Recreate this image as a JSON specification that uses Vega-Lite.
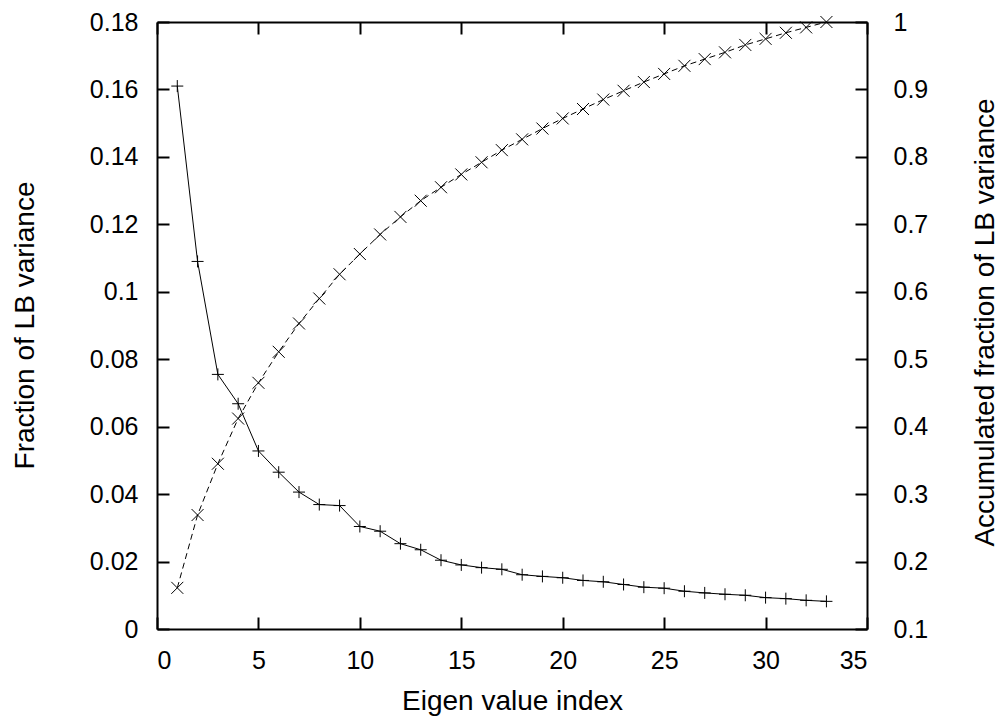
{
  "$schema": "https://vega.github.io/schema/vega-lite/v6.json",
  "autosize": {"type": "none"},
  "padding": {"left": 157, "top": 22, "right": 131, "bottom": 87},
  "width": 710,
  "height": 607,
  "background": "white",
  "config": {
    "view": {"stroke": null},
    "axis": {
      "labelFont": "Liberation Sans",
      "titleFont": "Liberation Sans",
      "labelFontSize": 25,
      "titleFontSize": 28,
      "labelColor": "black",
      "titleColor": "black",
      "titleFontWeight": "normal",
      "domainColor": "black",
      "domainWidth": 2,
      "tickColor": "black",
      "tickWidth": 2,
      "tickSize": -12,
      "labelPadding": 31,
      "grid": false
    }
  },
  "data": {
    "values": [
      {"idx": 1, "frac": 0.161, "acc": 0.161},
      {"idx": 2, "frac": 0.109, "acc": 0.269},
      {"idx": 3, "frac": 0.0755, "acc": 0.345},
      {"idx": 4, "frac": 0.0668, "acc": 0.412},
      {"idx": 5, "frac": 0.0528, "acc": 0.465},
      {"idx": 6, "frac": 0.0465, "acc": 0.511},
      {"idx": 7, "frac": 0.0406, "acc": 0.553},
      {"idx": 8, "frac": 0.0369, "acc": 0.59},
      {"idx": 9, "frac": 0.0366, "acc": 0.626},
      {"idx": 10, "frac": 0.0304, "acc": 0.656},
      {"idx": 11, "frac": 0.029, "acc": 0.685},
      {"idx": 12, "frac": 0.0253, "acc": 0.711},
      {"idx": 13, "frac": 0.0235, "acc": 0.735},
      {"idx": 14, "frac": 0.0204, "acc": 0.755},
      {"idx": 15, "frac": 0.019, "acc": 0.774},
      {"idx": 16, "frac": 0.0182, "acc": 0.792},
      {"idx": 17, "frac": 0.0177, "acc": 0.81},
      {"idx": 18, "frac": 0.0161, "acc": 0.826},
      {"idx": 19, "frac": 0.0156, "acc": 0.842},
      {"idx": 20, "frac": 0.0152, "acc": 0.857},
      {"idx": 21, "frac": 0.0144, "acc": 0.871},
      {"idx": 22, "frac": 0.014, "acc": 0.885},
      {"idx": 23, "frac": 0.0132, "acc": 0.898},
      {"idx": 24, "frac": 0.0124, "acc": 0.911},
      {"idx": 25, "frac": 0.0121, "acc": 0.923},
      {"idx": 26, "frac": 0.0112, "acc": 0.935},
      {"idx": 27, "frac": 0.0107, "acc": 0.945},
      {"idx": 28, "frac": 0.0103, "acc": 0.955},
      {"idx": 29, "frac": 0.01, "acc": 0.966},
      {"idx": 30, "frac": 0.0093, "acc": 0.975},
      {"idx": 31, "frac": 0.009, "acc": 0.984},
      {"idx": 32, "frac": 0.0085, "acc": 0.992},
      {"idx": 33, "frac": 0.0082, "acc": 1.0}
    ]
  },
  "layer": [
    {
      "encoding": {
        "x": {
          "field": "idx", "type": "quantitative",
          "scale": {"domain": [0, 35], "nice": false, "zero": false},
          "axis": {"orient": "bottom", "title": "Eigen value index", "values": [0,5,10,15,20,25,30,35],
                   "titleX": 355, "titleY": 80, "titleBaseline": "alphabetic", "titleAnchor": "middle"}
        },
        "y": {
          "field": "frac", "type": "quantitative",
          "scale": {"domain": [0, 0.18], "nice": false, "zero": false},
          "axis": {"orient": "left", "title": "Fraction of LB variance", "format": "~g",
                   "values": [0,0.02,0.04,0.06,0.08,0.1,0.12,0.14,0.16,0.18],
                   "titleX": -124, "titleY": 303, "titleAngle": -90, "titleBaseline": "alphabetic", "titleAlign": "center"}
        }
      },
      "layer": [
        {"mark": {"type": "line", "color": "black", "strokeWidth": 1}},
        {"mark": {"type": "point", "shape": "M-1,0L1,0M0,-1L0,1", "filled": false, "stroke": "black", "strokeWidth": 1, "size": 144, "opacity": 1}}
      ]
    },
    {
      "encoding": {
        "x": {
          "field": "idx", "type": "quantitative",
          "scale": {"domain": [0, 35], "nice": false, "zero": false},
          "axis": {"orient": "top", "title": null, "labels": false, "values": [0,5,10,15,20,25,30,35]}
        },
        "y": {
          "field": "acc", "type": "quantitative",
          "scale": {"domain": [0.1, 1], "nice": false, "zero": false},
          "axis": {"orient": "right", "title": "Accumulated fraction of LB variance", "format": "~g",
                   "values": [0.1,0.2,0.3,0.4,0.5,0.6,0.7,0.8,0.9,1], "labelPadding": 38,
                   "titleX": 126, "titleY": 300, "titleAngle": -90, "titleBaseline": "alphabetic", "titleAlign": "center"}
        }
      },
      "layer": [
        {"mark": {"type": "line", "color": "black", "strokeWidth": 1, "strokeDash": [6, 4]}},
        {"mark": {"type": "point", "shape": "M-1,-1L1,1M-1,1L1,-1", "filled": false, "stroke": "black", "strokeWidth": 1, "size": 144, "opacity": 1}}
      ]
    }
  ],
  "resolve": {"scale": {"y": "independent"}, "axis": {"x": "independent"}}
}
